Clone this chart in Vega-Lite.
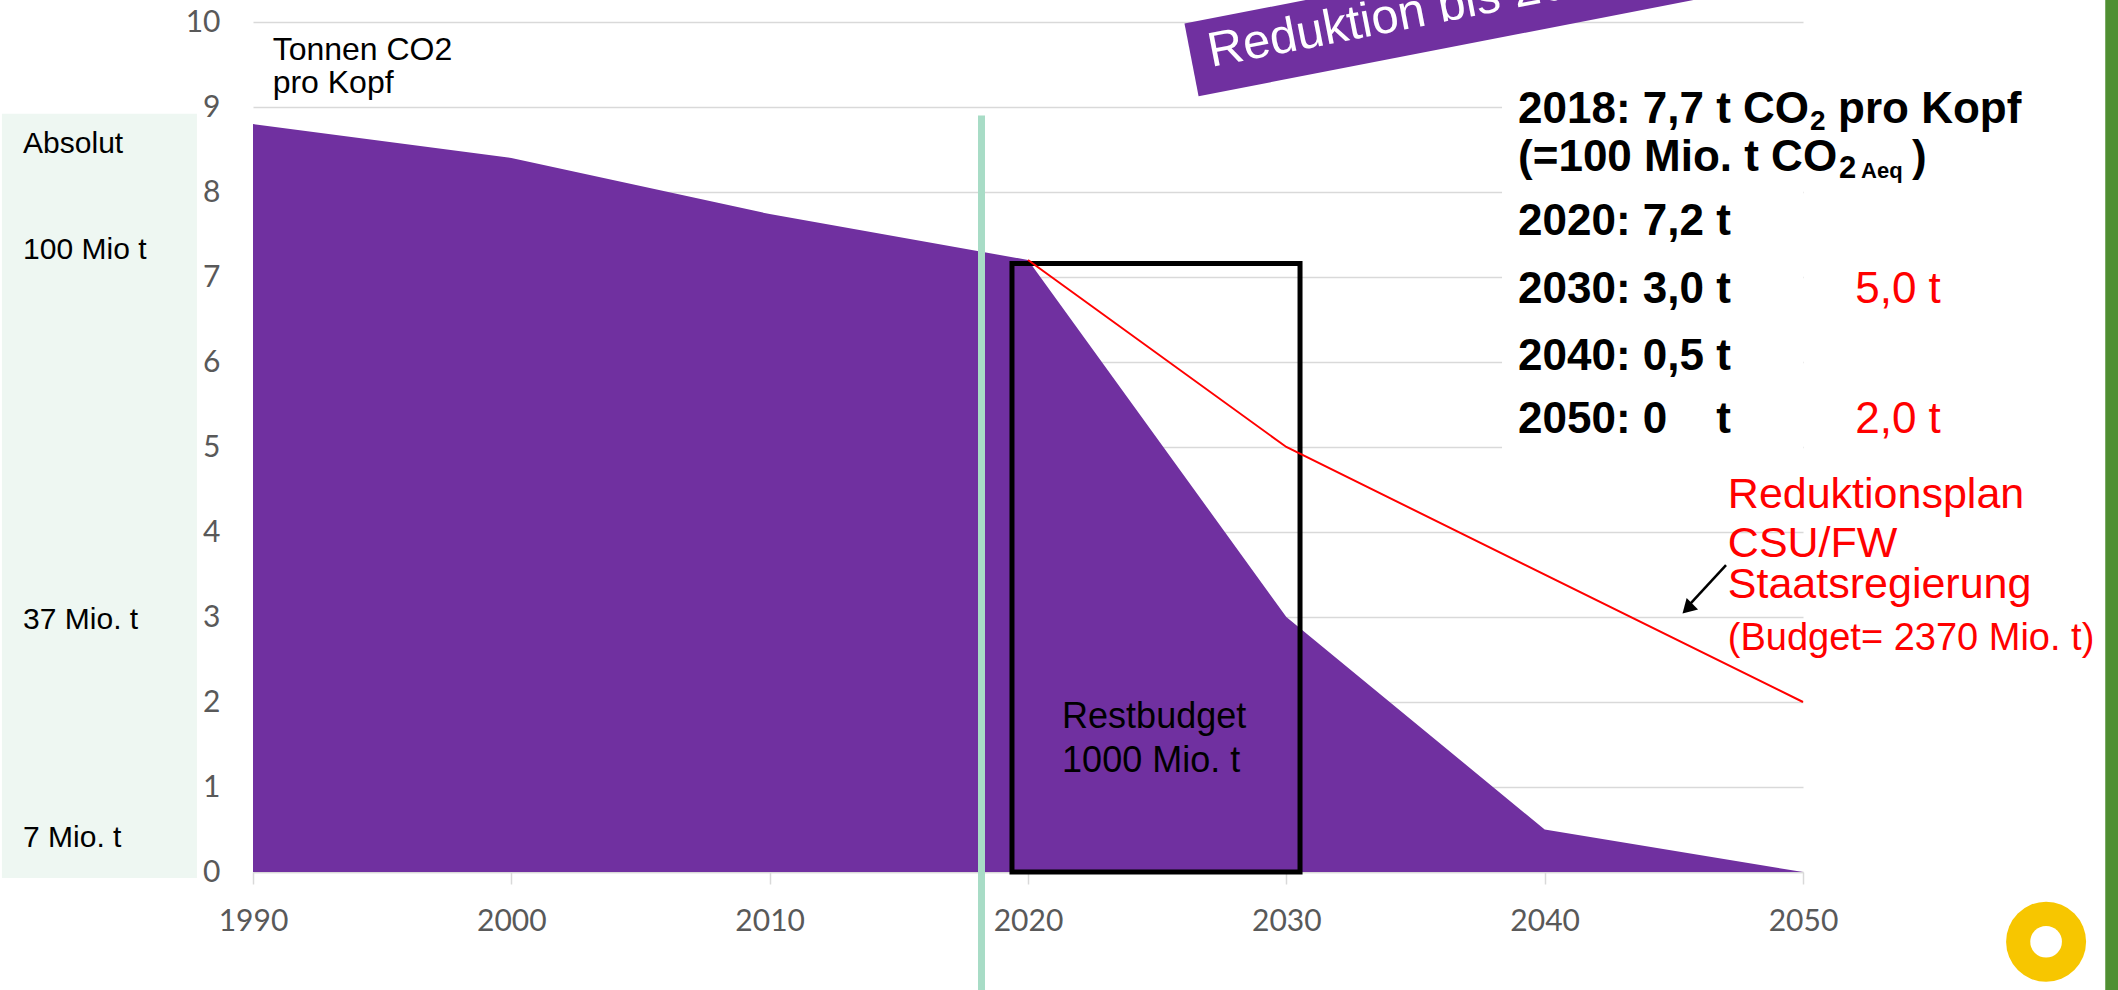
{
  "$schema": "https://vega.github.io/schema/vega-lite/v6.json",
  "width": 1550,
  "height": 850,
  "autosize": {"type": "none"},
  "padding": {"left": 253, "top": 22, "right": 315, "bottom": 118},
  "background": "white",
  "config": {"view": {"stroke": null}},
  "encoding": {
    "x": {
      "field": "x", "type": "quantitative",
      "scale": {"domain": [1990, 2050], "nice": false, "zero": false},
      "axis": {"values": [1990, 2000, 2010, 2020, 2030, 2040, 2050], "format": "d", "title": null, "grid": false,
        "ticks": true, "tickSize": 12, "tickColor": "#d9d9d9", "tickWidth": 1.5, "domainColor": "#d9d9d9", "domainWidth": 1.5,
        "labelFlush": false,
        "labelFont": "Lato", "labelFontSize": 30, "labelColor": "#595959", "labelPadding": 22}
    },
    "y": {
      "field": "y", "type": "quantitative",
      "scale": {"domain": [0, 10], "nice": false},
      "axis": {"values": [0, 1, 2, 3, 4, 5, 6, 7, 8, 9, 10], "title": null, "grid": true, "gridColor": "#d9d9d9", "gridWidth": 1.5,
        "labelFlush": false,
        "ticks": false, "domain": false, "labelFont": "Lato", "labelFontSize": 30, "labelColor": "#595959", "labelPadding": 33}
    }
  },
  "layer": [
    {
      "data": {"values": [{"x": 1980.28, "x2": 1987.83, "y": 8.92, "y2": -0.07}]},
      "mark": {"type": "rect", "color": "#eef7f2"},
      "encoding": {"x2": {"field": "x2"}, "y2": {"field": "y2"}}
    },
    {
      "data": {"values": [
        {"x": 1990, "y": 8.8}, {"x": 2000, "y": 8.4}, {"x": 2010, "y": 7.74},
        {"x": 2020, "y": 7.2}, {"x": 2030, "y": 3.0}, {"x": 2040, "y": 0.5}, {"x": 2050, "y": 0}
      ]},
      "mark": {"type": "area", "color": "#7030a0", "opacity": 1}
    },
    {
      "data": {"values": [{"x": 2038.35, "x2": 2050, "y": 9.5, "y2": 4.5}]},
      "mark": {"type": "rect", "color": "white"},
      "encoding": {"x2": {"field": "x2"}, "y2": {"field": "y2"}}
    },
    {
      "data": {"values": [{"x": 2018.2, "y": 8.9, "y2": -1.5}]},
      "mark": {"type": "rule", "color": "#a8dcc6", "strokeWidth": 7},
      "encoding": {"y2": {"field": "y2"}}
    },
    {
      "data": {"values": [{"x": 2019.38, "x2": 2030.53, "y": 7.16, "y2": 0}]},
      "mark": {"type": "rect", "filled": false, "stroke": "black", "strokeWidth": 5},
      "encoding": {"x2": {"field": "x2"}, "y2": {"field": "y2"}}
    },
    {
      "data": {"values": [{"x": 2020, "y": 7.2}, {"x": 2030, "y": 5.0}, {"x": 2050, "y": 2.0}]},
      "mark": {"type": "line", "color": "#ff0000", "strokeWidth": 2}
    },
    {
      "data": {"values": [{"x": 2039.63, "y": 10.34}]},
      "mark": {"type": "point", "shape": "M-1,-0.1057L1,-0.1057L1,0.1057L-1,0.1057Z", "size": 490000, "angle": 349,
        "filled": true, "fill": "#7030a0", "opacity": 1, "strokeWidth": 0}
    },
    {
      "data": {"values": [{"x": 2027.09, "y": 9.47, "t": "Reduktion bis 2030"}]},
      "mark": {"type": "text", "angle": 349, "align": "left", "baseline": "alphabetic", "font": "Liberation Sans", "fontSize": 49, "color": "white"},
      "encoding": {"text": {"field": "t"}}
    },
    {
      "data": {"values": [
        {"x": 1981.1, "y": 8.46, "t": "Absolut"},
        {"x": 1981.1, "y": 7.21, "t": "100 Mio t"},
        {"x": 1981.1, "y": 2.86, "t": "37 Mio. t"},
        {"x": 1981.1, "y": 0.29, "t": "7 Mio. t"}
      ]},
      "mark": {"type": "text", "align": "left", "baseline": "alphabetic", "font": "Liberation Sans", "fontSize": 30, "color": "black"},
      "encoding": {"text": {"field": "t"}}
    },
    {
      "data": {"values": [
        {"x": 1990.76, "y": 9.55, "t": "Tonnen CO2"},
        {"x": 1990.76, "y": 9.17, "t": "pro Kopf"}
      ]},
      "mark": {"type": "text", "align": "left", "baseline": "alphabetic", "font": "Liberation Sans", "fontSize": 32, "color": "black"},
      "encoding": {"text": {"field": "t"}}
    },
    {
      "data": {"values": [
        {"x": 2021.32, "y": 1.69, "t": "Restbudget"},
        {"x": 2021.32, "y": 1.18, "t": "1000 Mio. t"}
      ]},
      "mark": {"type": "text", "align": "left", "baseline": "alphabetic", "font": "Liberation Sans", "fontSize": 36, "color": "black"},
      "encoding": {"text": {"field": "t"}}
    },
    {
      "data": {"values": [
        {"x": 2038.97, "y": 8.81, "t": "2018: 7,7 t CO"},
        {"x": 2038.97, "y": 8.25, "t": "(=100 Mio. t CO"},
        {"x": 2038.97, "y": 7.49, "t": "2020: 7,2 t"},
        {"x": 2038.97, "y": 6.69, "t": "2030: 3,0 t"},
        {"x": 2038.97, "y": 5.91, "t": "2040: 0,5 t"},
        {"x": 2038.97, "y": 5.16, "t": "2050: 0\u00a0\u00a0\u00a0\u00a0t"}
      ]},
      "mark": {"type": "text", "align": "left", "baseline": "alphabetic", "font": "Liberation Sans", "fontWeight": "bold", "fontSize": 44, "color": "black"},
      "encoding": {"text": {"field": "t"}}
    },
    {
      "data": {"values": [{"x": 2038.97, "y": 8.81, "t": "2"}]},
      "mark": {"type": "text", "align": "left", "baseline": "alphabetic", "dx": 292, "dy": 7, "font": "Liberation Sans", "fontWeight": "bold", "fontSize": 28, "color": "black"},
      "encoding": {"text": {"field": "t"}}
    },
    {
      "data": {"values": [{"x": 2038.97, "y": 8.81, "t": "pro Kopf"}]},
      "mark": {"type": "text", "align": "left", "baseline": "alphabetic", "dx": 320, "font": "Liberation Sans", "fontWeight": "bold", "fontSize": 44, "color": "black"},
      "encoding": {"text": {"field": "t"}}
    },
    {
      "data": {"values": [{"x": 2038.97, "y": 8.25, "t": "2"}]},
      "mark": {"type": "text", "align": "left", "baseline": "alphabetic", "dx": 321, "dy": 7, "font": "Liberation Sans", "fontWeight": "bold", "fontSize": 31, "color": "black"},
      "encoding": {"text": {"field": "t"}}
    },
    {
      "data": {"values": [{"x": 2038.97, "y": 8.25, "t": "Aeq"}]},
      "mark": {"type": "text", "align": "left", "baseline": "alphabetic", "dx": 343, "dy": 7, "font": "Liberation Sans", "fontWeight": "bold", "fontSize": 22, "color": "black"},
      "encoding": {"text": {"field": "t"}}
    },
    {
      "data": {"values": [{"x": 2038.97, "y": 8.25, "t": ")"}]},
      "mark": {"type": "text", "align": "left", "baseline": "alphabetic", "dx": 394, "font": "Liberation Sans", "fontWeight": "bold", "fontSize": 44, "color": "black"},
      "encoding": {"text": {"field": "t"}}
    },
    {
      "data": {"values": [
        {"x": 2052.02, "y": 6.69, "t": "5,0 t"},
        {"x": 2052.02, "y": 5.16, "t": "2,0 t"}
      ]},
      "mark": {"type": "text", "align": "left", "baseline": "alphabetic", "font": "Liberation Sans", "fontSize": 44, "color": "#ff0000"},
      "encoding": {"text": {"field": "t"}}
    },
    {
      "data": {"values": [
        {"x": 2047.09, "y": 4.28, "t": "Reduktionsplan"},
        {"x": 2047.09, "y": 3.71, "t": "CSU/FW"},
        {"x": 2047.09, "y": 3.22, "t": "Staatsregierung"}
      ]},
      "mark": {"type": "text", "align": "left", "baseline": "alphabetic", "font": "Liberation Sans", "fontSize": 43, "color": "#ff0000"},
      "encoding": {"text": {"field": "t"}}
    },
    {
      "data": {"values": [{"x": 2047.09, "y": 2.61, "t": "(Budget= 2370 Mio. t)"}]},
      "mark": {"type": "text", "align": "left", "baseline": "alphabetic", "font": "Liberation Sans", "fontSize": 38, "color": "#ff0000"},
      "encoding": {"text": {"field": "t"}}
    },
    {
      "data": {"values": [{"x": 2047.02, "y": 3.61, "x2": 2045.5, "y2": 3.11}]},
      "mark": {"type": "rule", "color": "black", "strokeWidth": 2.5},
      "encoding": {"x2": {"field": "x2"}, "y2": {"field": "y2"}}
    },
    {
      "data": {"values": [{"x": 2045.59, "y": 3.118}]},
      "mark": {"type": "point", "shape": "triangle", "size": 260, "angle": 225, "filled": true, "color": "black", "opacity": 1}
    },
    {
      "data": {"values": [{"x": 2061.7, "x2": 2066, "y": 10.5, "y2": -1.5}]},
      "mark": {"type": "rect", "color": "#4f8f32"},
      "encoding": {"x2": {"field": "x2"}, "y2": {"field": "y2"}}
    },
    {
      "data": {"values": [{"x": 2059.41, "y": -0.82}]},
      "mark": {"type": "point", "shape": "circle", "size": 6400, "filled": true, "color": "#f7c600", "opacity": 1}
    },
    {
      "data": {"values": [{"x": 2059.41, "y": -0.82}]},
      "mark": {"type": "point", "shape": "circle", "size": 1000, "filled": true, "color": "white", "opacity": 1}
    }
  ]
}
